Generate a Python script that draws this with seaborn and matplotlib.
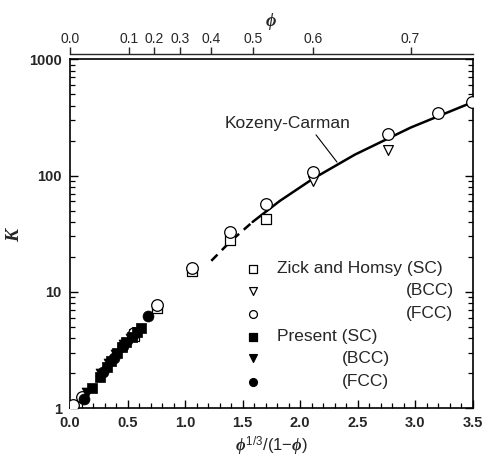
import numpy as np
import pandas as pd
import matplotlib
matplotlib.use("Agg")
import matplotlib.pyplot as plt
import seaborn as sns

# ---------------- data ----------------
zh_sc_x = [0.56, 0.76, 1.06, 1.39, 1.70]
zh_sc_k = [4.2, 7.2, 15.2, 27.9, 42.0]
zh_bcc_x = [0.56, 2.11, 2.76]
zh_bcc_k = [4.3, 90.0, 166.0]
zh_fcc_x = [0.03, 0.10, 0.56, 0.76, 1.06, 1.39, 1.70, 2.11, 2.76, 3.20, 3.49]
zh_fcc_k = [1.06, 1.25, 4.4, 7.7, 16.2, 32.9, 57.0, 108.0, 228.0, 348.0, 430.0]

pr_sc_x = [0.19, 0.26, 0.32, 0.36, 0.41, 0.45, 0.49, 0.54, 0.58, 0.62]
pr_sc_k = [1.50, 1.85, 2.25, 2.55, 2.95, 3.35, 3.70, 4.10, 4.50, 4.85]
pr_bcc_x = [0.15, 0.27, 0.34, 0.40, 0.47, 0.53]
pr_bcc_k = [1.35, 1.95, 2.40, 2.85, 3.50, 3.95]
pr_fcc_x = [0.12, 0.29, 0.38, 0.46, 0.68]
pr_fcc_k = [1.20, 2.05, 2.70, 3.40, 6.20]

kc_dash_x = [1.228, 1.393, 1.587]
kc_dash_k = [18.5, 27.1, 40.0]
kc_solid_x = [1.587, 1.821, 2.109, 2.475, 2.960, 3.479, 3.500]
kc_solid_k = [40.0, 60.4, 93.8, 151.6, 259.3, 421.0, 428.0]

x_ticks = [0.0, 0.5, 1.0, 1.5, 2.0, 2.5, 3.0, 3.5]
x_ticklabels = ["0.0", "0.5", "1.0", "1.5", "2.0", "2.5", "3.0", "3.5"]
y_ticks = [1, 10, 100, 1000]
y_ticklabels = ["1", "10", "100", "1000"]
phi_ticks = [0.0, 0.1, 0.2, 0.3, 0.4, 0.5, 0.6, 0.7]
phi_ticklabels = ["0.0", "0.1", "0.2", "0.3", "0.4", "0.5", "0.6", "0.7"]

legend_labels = ["Zick and Homsy (SC)", "(BCC)", "(FCC)", "Present (SC)", "(BCC)", "(FCC)"]

# ---------------- style ----------------
sns.set_style("ticks")
plt.rcParams["font.family"] = ["Liberation Sans", "DejaVu Sans"]
plt.rcParams["mathtext.fontset"] = "custom"
plt.rcParams["mathtext.it"] = "Liberation Serif:italic:bold"
plt.rcParams["mathtext.rm"] = "Liberation Sans"

fig = plt.figure(figsize=(4.83, 4.59), dpi=100)
ax = fig.add_axes([0.145, 0.111, 0.8337, 0.7594])

open_kw = dict(facecolor="white", edgecolor="black", linewidth=0.9, zorder=3)
fill_kw = dict(color="black", edgecolor="black", linewidth=0.5, zorder=3)

series = [
    (zh_sc_x, zh_sc_k, "s", 55, open_kw),
    (zh_bcc_x, zh_bcc_k, "v", 50, open_kw),
    (zh_fcc_x, zh_fcc_k, "o", 70, open_kw),
    (pr_sc_x, pr_sc_k, "s", 62, fill_kw),
    (pr_bcc_x, pr_bcc_k, "v", 62, fill_kw),
    (pr_fcc_x, pr_fcc_k, "o", 62, fill_kw),
]
for xs, ks, m, s, kw in series:
    df = pd.DataFrame({"x": xs, "K": ks})
    sns.scatterplot(data=df, x="x", y="K", marker=m, s=s, ax=ax, legend=False, **kw)

sns.lineplot(data=pd.DataFrame({"x": kc_dash_x, "K": kc_dash_k}), x="x", y="K",
             ax=ax, color="black", lw=1.8, linestyle=(0, (3.5, 2.5)), zorder=2)
sns.lineplot(data=pd.DataFrame({"x": kc_solid_x, "K": kc_solid_k}), x="x", y="K",
             ax=ax, color="black", lw=1.8, zorder=2)

ax.set_yscale("log")
ax.set_xlim(0, 3.5)
ax.set_ylim(1, 1000)
ax.set_xticks(x_ticks)
ax.set_xticklabels(x_ticklabels, fontsize=10.5, fontweight="bold")
ax.set_xticks(np.arange(0, 3.51, 0.1), minor=True)
ax.set_yticks(y_ticks)
ax.set_yticklabels(y_ticklabels, fontsize=10.5, fontweight="bold")
ax.tick_params(which="both", direction="in", top=True, right=True, color="black")
ax.tick_params(which="major", length=6, width=1.0, pad=6)
ax.tick_params(which="minor", length=3.5, width=0.9)
ax.tick_params(axis="x", which="major", labeltop=False)
for sp in ax.spines.values():
    sp.set_linewidth(1.2)
    sp.set_color("black")

ax.set_xlabel(r"$\phi^{1/3}$/(1$-\phi$)", fontsize=12, labelpad=3)
ax.set_ylabel(r"$K$", fontsize=14, labelpad=4)

# top phi axis
phi = np.array(phi_ticks)
ax2 = ax.twiny()
ax2.set_xlim(ax.get_xlim())
ax2.set_xticks(phi ** (1 / 3) / (1 - phi))
ax2.set_xticklabels(phi_ticklabels, fontsize=10.5, fontweight="bold")
for k in ["bottom", "left", "right"]:
    ax2.spines[k].set_visible(False)
ax2.spines["top"].set_position(("outward", 4))
ax2.spines["top"].set_linewidth(1.0)
ax2.tick_params(axis="x", direction="out", length=5, width=1.0, pad=1)
ax2.set_xlabel(r"$\phi$", fontsize=13, labelpad=4)

# Kozeny-Carman label
ax.annotate("Kozeny-Carman", xy=(2.32, 131), xytext=(1.89, 284), fontsize=12.5,
            ha="center", va="center",
            arrowprops=dict(arrowstyle="-", color="black", lw=0.8, relpos=(0.7, 0.0),
                            shrinkA=1, shrinkB=0))

# legend (markers + texts)
leg_marks = [("s", "white"), ("v", "white"), ("o", "white"),
             ("s", "black"), ("v", "black"), ("o", "black")]
row_y = [0.399, 0.336, 0.270, 0.204, 0.143, 0.075]
text_x = [0.513, 0.833, 0.833, 0.513, 0.675, 0.675]
for (m, fc), yy, tx, lab in zip(leg_marks, row_y, text_x, legend_labels):
    ax.scatter([0.454], [yy], marker=m, s=32, facecolor=fc, edgecolor="black",
               linewidth=0.9, transform=ax.transAxes, zorder=4, clip_on=False)
    ax.text(tx, yy, lab, transform=ax.transAxes, fontsize=12.5, va="center", ha="left")

fig.savefig("out.png", dpi=100)
